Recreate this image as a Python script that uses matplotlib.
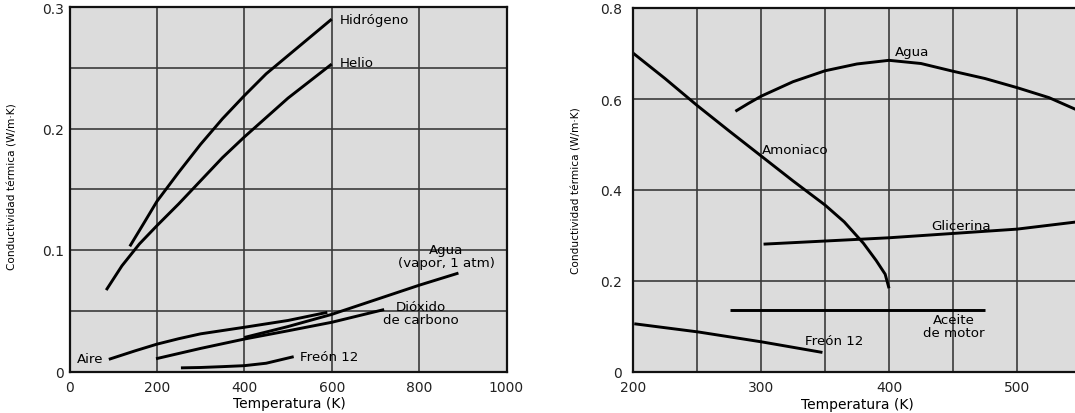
import matplotlib
matplotlib.use("Agg")
import matplotlib.pyplot as plt
from matplotlib.ticker import FixedLocator

# ---------------- data (left panel: gases) ----------------
hidrogeno_T = [138, 170, 200, 250, 300, 350, 400, 450, 500, 550, 600]
hidrogeno_k = [0.103, 0.122, 0.140, 0.164, 0.187, 0.208, 0.227, 0.245, 0.260, 0.275, 0.290]

helio_T = [84, 120, 160, 200, 250, 300, 350, 400, 450, 500, 550, 600]
helio_k = [0.067, 0.087, 0.105, 0.120, 0.138, 0.157, 0.176, 0.193, 0.209, 0.225, 0.239, 0.253]

vapor_T = [400, 500, 600, 700, 800, 890]
vapor_k = [0.028, 0.037, 0.047, 0.059, 0.071, 0.081]

aire_T = [90, 150, 200, 250, 300, 400, 500, 590]
aire_k = [0.010, 0.017, 0.0225, 0.027, 0.031, 0.0364, 0.042, 0.0487]

co2_T = [198, 300, 400, 500, 600, 720]
co2_k = [0.0105, 0.019, 0.0267, 0.0335, 0.0405, 0.051]

freon_gas_T = [255, 300, 350, 400, 450, 513]
freon_gas_k = [0.003, 0.0033, 0.004, 0.0048, 0.0068, 0.0122]

# ---------------- data (right panel: liquids) ----------------
agua_T = [280, 290, 300, 325, 350, 375, 400, 425, 450, 475, 500, 525, 550]
agua_k = [0.573, 0.590, 0.606, 0.638, 0.662, 0.677, 0.685, 0.678, 0.661, 0.645, 0.625, 0.603, 0.572]

amoniaco_T = [200, 225, 250, 275, 300, 325, 350, 365, 380, 390, 397, 400]
amoniaco_k = [0.701, 0.645, 0.586, 0.530, 0.475, 0.420, 0.367, 0.330, 0.283, 0.245, 0.215, 0.184]

glicerina_T = [302, 400, 500, 550]
glicerina_k = [0.281, 0.295, 0.314, 0.331]

aceite_T = [276, 475]
aceite_k = [0.136, 0.136]

freon_liq_T = [201, 251, 301, 348]
freon_liq_k = [0.106, 0.088, 0.066, 0.043]

left_xticks = [0, 200, 400, 600, 800, 1000]
left_yticks = [0, 0.1, 0.2, 0.3]
left_yminor = [0.05, 0.15, 0.25]
right_xticks = [200, 300, 400, 500]
right_xminor = [250, 350, 450]
right_yticks = [0, 0.2, 0.4, 0.6, 0.8]

xlabel = "Temperatura (K)"
ylabel = "Conductividad térmica (W/m·K)"

# ---------------- styling ----------------
plt.rcParams['font.family'] = ['DejaVu Sans']
BG = '#dcdcdc'
GRID = '#3a3a3a'
LW = 2.1
FS = 10
FT = 9.6
FY = 7.6
NARROW = ['Liberation Sans Narrow', 'DejaVu Sans']

fig = plt.figure(figsize=(10.75, 4.14), dpi=100)
axL = fig.add_axes([69.5 / 1075, 41.5 / 414, 437 / 1075, 364.5 / 414])
axR = fig.add_axes([633 / 1075, 41 / 414, 448 / 1075, 364 / 414])

for ax in (axL, axR):
    ax.set_facecolor(BG)
    for s in ax.spines.values():
        s.set_linewidth(1.6)
        s.set_color('#111111')
    ax.tick_params(which='both', length=0, labelsize=FS, colors='#222222')
    ax.grid(True, which='both', color=GRID, linewidth=1.2)
    ax.set_axisbelow(True)

# left panel
axL.set_xlim(0, 1000)
axL.set_ylim(0, 0.3)
axL.set_xticks(left_xticks)
axL.set_xticklabels([str(t) for t in left_xticks])
axL.set_yticks(left_yticks)
axL.set_yticklabels(['0', '0.1', '0.2', '0.3'])
axL.yaxis.set_minor_locator(FixedLocator(left_yminor))
axL.tick_params(axis='y', pad=4)
axL.tick_params(axis='x', pad=6)

for T, k in [(hidrogeno_T, hidrogeno_k), (helio_T, helio_k), (vapor_T, vapor_k),
             (aire_T, aire_k), (co2_T, co2_k), (freon_gas_T, freon_gas_k)]:
    axL.plot(T, k, color='black', lw=LW, solid_capstyle='butt', solid_joinstyle='round')

axL.text(618, 0.290, "Hidrógeno", fontsize=FT, va='center', ha='left')
axL.text(618, 0.254, "Helio", fontsize=FT, va='center', ha='left')
axL.text(862, 0.095, "Agua\n(vapor, 1 atm)", fontsize=FT, va='center', ha='center',
         linespacing=1.0)
axL.text(805, 0.048, "Dióxido\nde carbono", fontsize=FT, va='center', ha='center',
         linespacing=1.0)
axL.text(78, 0.0104, "Aire", fontsize=FT, va='center', ha='right')
axL.text(528, 0.0126, "Freón 12", fontsize=FT, va='center', ha='left')

axL.set_xlabel(xlabel, fontsize=FS)
axL.xaxis.set_label_coords(0.504, -0.068)
axL.set_ylabel(ylabel, fontsize=FY, family=NARROW)
axL.yaxis.set_label_coords(-0.12, 0.51)

# right panel
axR.set_xlim(200, 550)
axR.set_ylim(0, 0.8)
axR.set_xticks(right_xticks)
axR.set_xticklabels([str(t) for t in right_xticks])
axR.xaxis.set_minor_locator(FixedLocator(right_xminor))
axR.set_yticks(right_yticks)
axR.set_yticklabels(['0', '0.2', '0.4', '0.6', '0.8'])
axR.tick_params(axis='y', pad=8)
axR.tick_params(axis='x', pad=6)

for T, k in [(agua_T, agua_k), (amoniaco_T, amoniaco_k), (glicerina_T, glicerina_k),
             (aceite_T, aceite_k), (freon_liq_T, freon_liq_k)]:
    axR.plot(T, k, color='black', lw=LW, solid_capstyle='butt', solid_joinstyle='round')

axR.text(418, 0.705, "Agua", fontsize=FT, va='center', ha='center')
axR.text(301, 0.488, "Amoniaco", fontsize=FT, va='center', ha='left')
axR.text(456, 0.323, "Glicerina", fontsize=FT, va='center', ha='center')
axR.text(451, 0.101, "Aceite\nde motor", fontsize=FT, va='center', ha='center',
         linespacing=1.0)
axR.text(357, 0.070, "Freón 12", fontsize=FT, va='center', ha='center')

axR.set_xlabel(xlabel, fontsize=FS)
axR.xaxis.set_label_coords(0.5, -0.068)
axR.set_ylabel(ylabel, fontsize=FY, family=NARROW)
axR.yaxis.set_label_coords(-0.116, 0.5)

fig.savefig("out.png", dpi=100)
